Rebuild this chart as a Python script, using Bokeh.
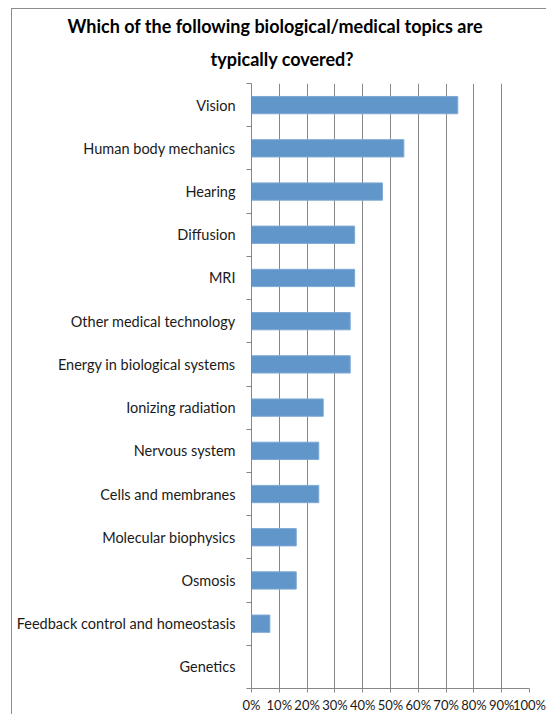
from bokeh.plotting import figure
from bokeh.models import (Range1d, FixedTicker, NumeralTickFormatter, Title, ColumnDataSource)
from bokeh.embed import file_html
from bokeh.resources import INLINE

topics = [
    "Vision",
    "Human body mechanics",
    "Hearing",
    "Diffusion",
    "MRI",
    "Other medical technology",
    "Energy in biological systems",
    "Ionizing radiation",
    "Nervous system",
    "Cells and membranes",
    "Molecular biophysics",
    "Osmosis",
    "Feedback control and homeostasis",
    "Genetics",
]
share = [0.742, 0.548, 0.471, 0.371, 0.371, 0.355, 0.355, 0.258, 0.242, 0.242, 0.161, 0.161, 0.066, 0.0]
x_ticks = [0.0, 0.1, 0.2, 0.3, 0.4, 0.5, 0.6, 0.7, 0.8, 0.9, 1.0]
title_lines = ["Which of the following biological/medical topics are", "typically covered?"]

n = len(topics)
ypos = [n - 0.5 - i for i in range(n)]
src = ColumnDataSource(dict(y=ypos, v=share, name=topics))

GRID = "#878787"
FONT = "Lato"

p = figure(width=535, height=706, output_backend="svg", toolbar_location=None,
           x_range=Range1d(0, 1), y_range=Range1d(0, n),
           min_border_left=239, min_border_right=18, min_border_top=74, min_border_bottom=24,
           title=None)
p.outline_line_color = None
p.background_fill_color = "white"
p.border_fill_color = "white"
p.margin = (8, 0, 0, 11)
p.styles = {"border-left": "1px solid #8C8C8C", "border-top": "1px solid #8C8C8C"}

p.hbar(y="y", right="v", left=0, height=0.4, source=src,
       fill_color="#6096C9", line_color="#7EA9D4", line_width=1)

# x axis
xa = p.xaxis[0]
xa.ticker = FixedTicker(ticks=x_ticks)
xa.formatter = NumeralTickFormatter(format="0%")
xa.axis_line_color = GRID
xa.major_tick_line_color = GRID
xa.major_tick_out = 4
xa.major_tick_in = 0
xa.minor_tick_line_color = None
xa.major_label_text_font = FONT
xa.major_label_text_font_size = "13px"
xa.major_label_text_color = "#1a1a1a"
xa.major_label_standoff = 4

# y axis
ya = p.yaxis[0]
ya.ticker = FixedTicker(ticks=ypos, minor_ticks=list(range(n + 1)))
ya.major_label_overrides = {float(y): t for y, t in zip(ypos, topics)}
ya.axis_line_color = GRID
ya.major_tick_line_color = None
ya.major_tick_out = 0
ya.major_tick_in = 0
ya.minor_tick_line_color = GRID
ya.minor_tick_out = 5
ya.minor_tick_in = 0
ya.major_label_text_font = FONT
ya.major_label_text_font_size = "14.5px"
ya.major_label_text_color = "#1a1a1a"
ya.major_label_standoff = 11

p.xgrid.ticker = FixedTicker(ticks=x_ticks)
p.xgrid.grid_line_color = GRID
p.xgrid.grid_line_width = 1
p.ygrid.grid_line_color = None

# two title lines, each centred near x=282 (left-aligned with offsets; lower line added first)
offsets = [-41, -184]
standoffs = [28, -11]
for i, line in enumerate(reversed(title_lines)):
    t = Title(text=line, align="left", offset=offsets[i],
              text_font=FONT, text_font_size="18px", text_font_style="bold",
              text_color="#000000", standoff=standoffs[i],
              text_line_height=0.75)
    p.add_layout(t, "above")

open("out.html", "w").write(file_html(p, INLINE))
